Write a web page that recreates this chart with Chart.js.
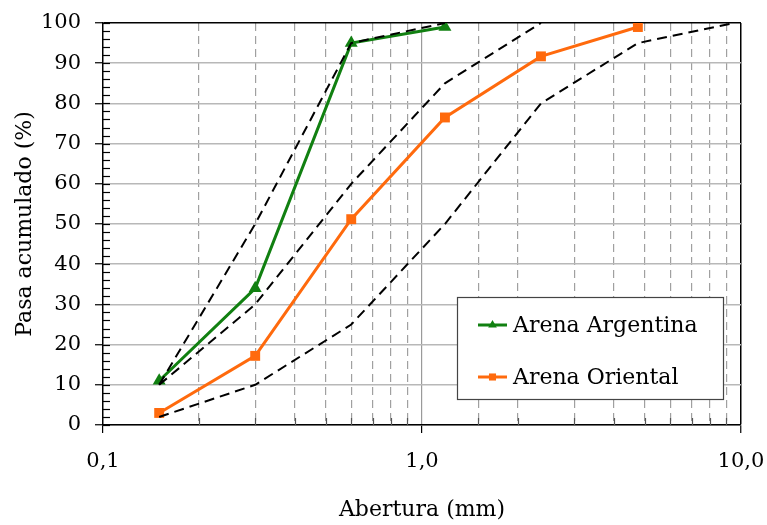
<!DOCTYPE html>
<html>
<head>
<meta charset="utf-8">
<script src="https://cdn.jsdelivr.net/npm/chart.js@4/dist/chart.umd.min.js"></script>
<style>
  html, body { margin: 0; padding: 0; background: #fff; }
  #wrap { width: 767px; height: 525px; }
</style>
</head>
<body>
<div id="wrap"><canvas id="myChart" width="767" height="525"></canvas></div>
<script>
// tamices (mm)
const aberturas = [0.15, 0.3, 0.6, 1.18, 2.36, 4.75, 9.5];
const arenaArgentina = [11, 34, 95, 99];
const arenaOriental = [3, 17.2, 51.2, 76.5, 91.7, 99];
const limiteFino = [10, 50, 95, 100];
const limiteSuperior = [10, 30, 60, 85, 100];
const limiteInferior = [2, 10, 25, 50, 80, 95, 100];
const xTickLabels = ['0,1', '1,0', '10,0'];

const FONT = "'DejaVu Serif', 'Liberation Serif', serif";

function pts(vals) {
  return vals.map((v, i) => ({x: aberturas[i], y: v}));
}
function isDecade(v) {
  const l = Math.log10(v);
  return Math.abs(l - Math.round(l)) < 1e-9;
}

const limitStyle = {
  borderColor: '#000',
  borderWidth: 2,
  borderDash: [10, 6],
  pointRadius: 0,
  fill: false,
  tension: 0,
  showLegend: false
};

const data = {
  datasets: [
    Object.assign({label: 'Limite fino', data: pts(limiteFino)}, limitStyle),
    Object.assign({label: 'Limite superior', data: pts(limiteSuperior)}, limitStyle),
    Object.assign({label: 'Limite inferior', data: pts(limiteInferior)}, limitStyle),
    {
      label: 'Arena Argentina',
      data: pts(arenaArgentina),
      borderColor: '#118011',
      backgroundColor: '#118011',
      borderWidth: 3,
      pointStyle: 'triangle',
      pointRadius: 7.5,
      pointBorderWidth: 0,
      tension: 0,
      showLegend: true
    },
    {
      label: 'Arena Oriental',
      data: pts(arenaOriental),
      borderColor: '#ff6a0d',
      backgroundColor: '#ff6a0d',
      borderWidth: 3,
      pointStyle: 'rect',
      pointRadius: 7,
      pointBorderWidth: 0,
      tension: 0,
      showLegend: true
    }
  ]
};

// ticks interiores y leyenda con marco
const extras = {
  id: 'extras',
  afterDatasetsDraw(chart) {
    const ctx = chart.ctx;
    const xs = chart.scales.x, ys = chart.scales.y;
    const a = chart.chartArea;
    ctx.save();
    ctx.lineWidth = 1.2;
    ctx.strokeStyle = '#555';
    xs.ticks.forEach(t => {
      if (isDecade(t.value)) return;
      const px = Math.round(xs.getPixelForValue(t.value)) + 0.5;
      ctx.beginPath(); ctx.moveTo(px, a.bottom); ctx.lineTo(px, a.bottom - 7); ctx.stroke();
    });
    ctx.strokeStyle = '#000';
    ys.ticks.forEach(t => {
      const py = Math.round(ys.getPixelForValue(t.value)) + 0.5;
      ctx.beginPath(); ctx.moveTo(a.left, py); ctx.lineTo(a.left + 7, py); ctx.stroke();
    });

    // leyenda
    const w = 266, h = 102;
    const bx = a.right - 18 - w, by = a.bottom - 26 - h;
    ctx.fillStyle = '#fff';
    ctx.fillRect(bx, by, w, h);
    ctx.strokeStyle = '#444';
    ctx.lineWidth = 1.2;
    ctx.strokeRect(bx + 0.5, by + 0.5, w, h);
    const items = chart.data.datasets.filter(d => d.showLegend);
    items.forEach((d, i) => {
      const cy = by + 28 + i * 52;
      ctx.strokeStyle = d.borderColor;
      ctx.lineWidth = 3;
      ctx.beginPath(); ctx.moveTo(bx + 21, cy); ctx.lineTo(bx + 50, cy); ctx.stroke();
      ctx.fillStyle = d.backgroundColor;
      Chart.helpers.drawPoint(ctx, {pointStyle: d.pointStyle, radius: 5, borderWidth: 0}, bx + 35.5, cy);
      ctx.fillStyle = '#000';
      ctx.font = '22px ' + FONT;
      ctx.textAlign = 'left';
      ctx.textBaseline = 'middle';
      ctx.fillText(d.label, bx + 56, cy + 1);
    });
    ctx.restore();
  }
};

const config = {
  type: 'line',
  data,
  options: {
    responsive: false,
    animation: false,
    layout: {padding: {left: 0, right: 26, top: 23, bottom: 0}},
    plugins: {legend: {display: false}, tooltip: {enabled: false}},
    scales: {
      x: {
        type: 'logarithmic',
        position: 'bottom',
        min: 0.1,
        max: 10,
        afterFit(scale) {
          scale.height = 100;
          scale.paddingLeft = 0;
          scale.paddingRight = 0;
        },
        border: {color: '#000', width: 1.5},
        grid: {
          color: c => {
            const v = c.tick.value;
            if (Math.abs(v - 10) < 1e-9) return '#000';
            if (Math.abs(v - 1) < 1e-9) return '#9a9a9a';
            return 'rgba(0,0,0,0)';
          },
          lineWidth: c => Math.abs(c.tick.value - 10) < 1e-9 ? 1.5 : 1.2,
          tickColor: c => isDecade(c.tick.value) ? '#000' : 'rgba(0,0,0,0)',
          tickLength: 8,
          tickWidth: 1.2
        },
        ticks: {
          autoSkip: false,
          maxRotation: 0,
          padding: 16,
          color: '#000',
          font: {family: FONT, size: 21},
          callback: v => {
            if (!isDecade(v)) return '';
            return xTickLabels[Math.round(Math.log10(v)) + 1];
          }
        },
        title: {
          display: true,
          text: 'Abertura (mm)',
          color: '#000',
          font: {family: FONT, size: 22},
          padding: {top: 0, bottom: 2}
        }
      },
      x2: {
        type: 'logarithmic',
        position: 'top',
        min: 0.1,
        max: 10,
        afterFit(scale) {
          scale.height = 0;
          scale.paddingLeft = 0;
          scale.paddingRight = 0;
        },
        border: {display: false, dash: [8, 5]},
        grid: {
          color: c => isDecade(c.tick.value) ? 'rgba(0,0,0,0)' : '#a0a0a0',
          lineWidth: 1.2,
          drawTicks: false
        },
        ticks: {display: false, autoSkip: false}
      },
      y: {
        min: 0,
        max: 100,
        afterFit(scale) {
          scale.width = 103;
          scale.paddingTop = 0;
          scale.paddingBottom = 0;
        },
        border: {color: '#000', width: 1.5},
        grid: {
          color: c => {
            const v = c.tick.value;
            if (v % 10 !== 0) return 'rgba(0,0,0,0)';
            return v === 100 ? '#000' : '#b8b8b8';
          },
          lineWidth: 1.5,
          tickColor: c => c.tick.value % 10 === 0 ? '#000' : 'rgba(0,0,0,0)',
          tickLength: 8,
          tickWidth: 1.2
        },
        ticks: {
          stepSize: 2,
          autoSkip: false,
          padding: 14,
          color: '#000',
          font: {family: FONT, size: 21},
          callback: v => v % 10 === 0 ? v : ''
        },
        title: {
          display: true,
          text: 'Pasa acumulado (%)',
          color: '#000',
          font: {family: FONT, size: 22},
          padding: {top: 12, bottom: 0}
        }
      }
    }
  },
  plugins: [extras]
};

const myChart = new Chart(
  document.getElementById('myChart'),
  config
);
</script>
</body>
</html>
